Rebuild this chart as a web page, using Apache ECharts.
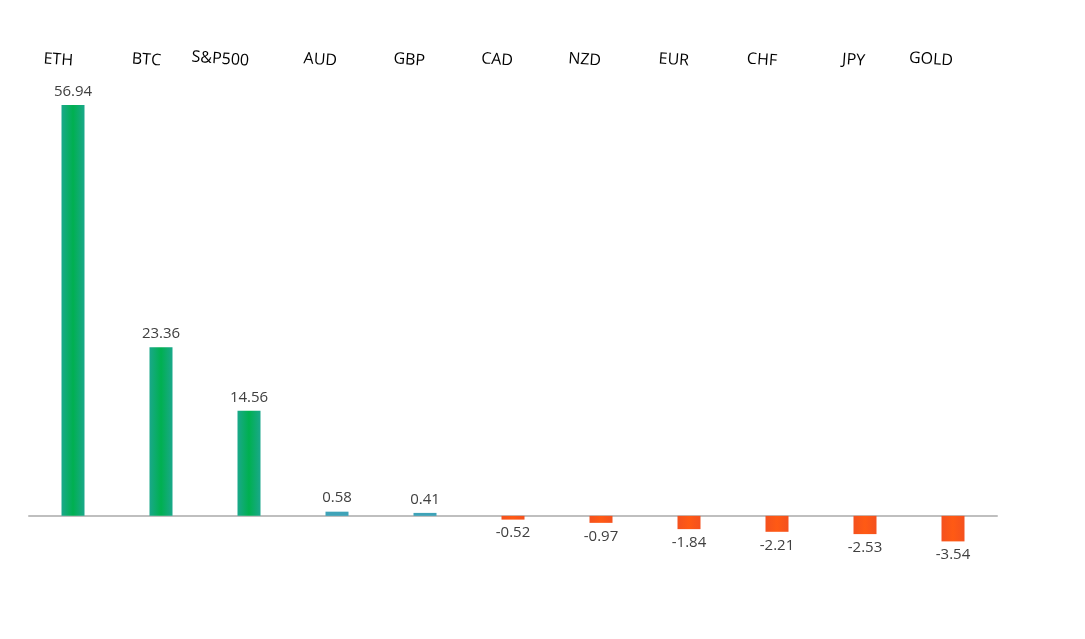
<!DOCTYPE html>
<html><head><meta charset="utf-8">
<script src="https://cdn.jsdelivr.net/npm/echarts@6/dist/echarts.min.js"></script>
<style>html,body{margin:0;background:#fff}#c{width:1085px;height:639px}</style>
</head><body><div id="c"></div>
<script>
const categories=['ETH','BTC','S&P500','AUD','GBP','CAD','NZD','EUR','CHF','JPY','GOLD'];
const values=[56.94,23.36,14.56,0.58,0.41,-0.52,-0.97,-1.84,-2.21,-2.53,-3.54];
function colorFor(v){
  if(v>=5) return new echarts.graphic.LinearGradient(0,0,1,0,[{offset:0,color:'#1aa88a'},{offset:0.5,color:'#00b050'},{offset:1,color:'#1aa88a'}]);
  if(v>=0) return '#3fa3b8';
  return new echarts.graphic.LinearGradient(0,0,1,0,[{offset:0,color:'#f4511e'},{offset:0.5,color:'#ff5a14'},{offset:1,color:'#f4511e'}]);
}
const chart=echarts.init(document.getElementById('c'));
chart.setOption({
  animation:false,
  grid:{left:29,right:88,top:83,bottom:51},
  xAxis:[{type:'category',data:categories,axisLine:{onZero:true,lineStyle:{color:'#bfbfbf',width:2}},axisTick:{show:false},axisLabel:{show:false}},
    {type:'category',data:categories,position:'top',axisLine:{show:false},axisTick:{show:false},
     axisLabel:{margin:22,rotate:4,fontSize:16,color:'#000',fontFamily:'Open Sans',padding:[0,0,0,72]}}],
  yAxis:{type:'value',min:-10,max:60,show:false,splitLine:{show:false}},
  series:[{type:'bar',barWidth:23,
    data:values.map(v=>({value:v,itemStyle:{color:colorFor(v)}})),
    label:{show:true,position:'outside',fontSize:15,color:'#404040',fontFamily:'Open Sans',distance:6}}]
});
</script></body></html>
